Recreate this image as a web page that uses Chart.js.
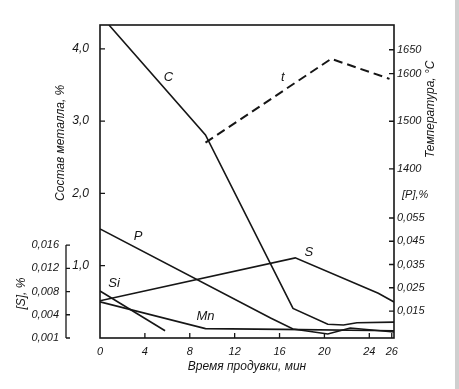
<!DOCTYPE html>
<html>
<head>
<meta charset="utf-8">
<script src="https://cdn.jsdelivr.net/npm/chart.js@4.4.1/dist/chart.umd.min.js"></script>
<style>
  html, body { margin: 0; padding: 0; background: #fff; }
  #wrap { width: 455px; height: 389px; border-right: 4px solid #cfcfcf; }
</style>
</head>
<body>
<div id="wrap"><canvas id="steelChart" width="455" height="389"></canvas></div>
<script>
// Кривые продувки: время (мин) и состав / температура
const carbonTime = [0.8, 9.4, 17.2, 20.3, 21.7, 22.9, 26.2];
const carbonPct  = [4.33, 2.81, 0.41, 0.19, 0.18, 0.21, 0.22];

const tempTime = [9.4, 20.6, 25.8];
const tempC    = [1455, 1631, 1589];

const phosTime = [0, 15.2, 17.2, 20.3, 22.3, 26.2];
const phosPct  = [0.0503, 0.0120, 0.0073, 0.0051, 0.0077, 0.0060];

const sulfTime = [0, 17.4, 24.8, 26.2];
const sulfPct  = [0.0064, 0.0138, 0.0077, 0.0062];

const siTime = [0, 5.8];
const siPct  = [0.65, 0.10];

const mnTime = [0, 9.4, 16.2, 26.2];
const mnPct  = [0.50, 0.13, 0.12, 0.10];

// Деления осей
const timeTicks  = [0, 4, 8, 12, 16, 20, 24, 26];
const metalTicks = [1, 2, 3, 4];
const tempTicks  = [1400, 1500, 1600, 1650];
const phosTicks  = [0.015, 0.025, 0.035, 0.045, 0.055];
const sulfTicks  = [0, 0.004, 0.008, 0.012, 0.016];
const sulfTickLabels = ['0,001', '0,004', '0,008', '0,012', '0,016'];

// Подписи кривых (в единицах осей x / y)
const curveLabels = [
    { text: 'C',  x: 6.1,  y: 3.61 },
    { text: 't',  x: 16.3, y: 3.61 },
    { text: 'P',  x: 3.4,  y: 1.41 },
    { text: 'S',  x: 18.6, y: 1.18 },
    { text: 'Si', x: 1.25, y: 0.76 },
    { text: 'Mn', x: 9.4,  y: 0.30 }
];

const INK = '#161616';
const FONT = "'Liberation Sans', 'DejaVu Sans', sans-serif";

function pts(xs, ys) {
    return xs.map((x, i) => ({ x: x, y: ys[i] }));
}

function comma(v, digits) {
    return v.toFixed(digits).replace('.', ',');
}

function lineSet(xs, ys, axis, dashed) {
    return {
        data: pts(xs, ys),
        yAxisID: axis,
        borderColor: INK,
        borderWidth: dashed ? 2 : 1.6,
        borderDash: dashed ? [9, 5] : [],
        pointRadius: 0,
        tension: 0,
        fill: false
    };
}

// Рамка, внутренние засечки, дополнительные оси и надписи
const extrasPlugin = {
    id: 'extras',
    afterDraw(chart) {
        const ctx = chart.ctx;
        const area = chart.chartArea;
        const sx = chart.scales.x;
        const sy = chart.scales.y;
        const sT = chart.scales.yT;
        const sP = chart.scales.yP;
        const sS = chart.scales.yS;

        ctx.save();
        ctx.strokeStyle = INK;
        ctx.fillStyle = INK;
        ctx.lineWidth = 1.6;
        ctx.strokeRect(area.left, area.top, area.right - area.left, area.bottom - area.top);

        ctx.lineWidth = 1.3;
        ctx.beginPath();
        timeTicks.slice(1).forEach(v => {
            const px = sx.getPixelForValue(v);
            ctx.moveTo(px, area.bottom);
            ctx.lineTo(px, area.bottom - 5);
        });
        metalTicks.forEach(v => {
            const py = sy.getPixelForValue(v);
            ctx.moveTo(area.left, py);
            ctx.lineTo(area.left + 5, py);
        });
        tempTicks.forEach(v => {
            const py = sT.getPixelForValue(v);
            ctx.moveTo(area.right, py);
            ctx.lineTo(area.right - 5, py);
        });
        phosTicks.forEach(v => {
            const py = sP.getPixelForValue(v);
            ctx.moveTo(area.right, py);
            ctx.lineTo(area.right - 5, py);
        });
        ctx.stroke();

        ctx.font = 'italic 11px ' + FONT;
        ctx.textAlign = 'left';
        ctx.textBaseline = 'middle';
        tempTicks.forEach(v => {
            ctx.fillText(String(v), area.right + 3, sT.getPixelForValue(v));
        });
        phosTicks.forEach(v => {
            ctx.fillText(comma(v, 3), area.right + 3, sP.getPixelForValue(v));
        });
        ctx.fillText('[P],%', area.right + 8, sP.getPixelForValue(0.055) - 23);

        // Ось [S] — скобка слева
        const bx = area.left - 34;
        const sTop = sS.getPixelForValue(sulfTicks[sulfTicks.length - 1]);
        const sBot = sS.getPixelForValue(sulfTicks[0]);
        ctx.beginPath();
        ctx.moveTo(bx, sTop);
        ctx.lineTo(bx, sBot);
        sulfTicks.forEach(v => {
            const py = sS.getPixelForValue(v);
            ctx.moveTo(bx, py);
            ctx.lineTo(bx + 4, py);
        });
        ctx.stroke();
        ctx.textAlign = 'right';
        sulfTicks.forEach((v, i) => {
            ctx.fillText(sulfTickLabels[i], bx - 7, sS.getPixelForValue(v));
        });

        // Повёрнутые заголовки осей
        ctx.font = 'italic 12px ' + FONT;
        ctx.textAlign = 'center';
        const vtitle = (text, x, y) => {
            ctx.save();
            ctx.translate(x, y);
            ctx.rotate(-Math.PI / 2);
            ctx.fillText(text, 0, 0);
            ctx.restore();
        };
        vtitle('Состав металла, %', area.left - 39, sy.getPixelForValue(2.7));
        vtitle('Температура, °C', area.right + 37, sT.getPixelForValue(1525));
        vtitle('[S], %', area.left - 78, (sTop + sBot) / 2 + 2);

        // Подписи кривых
        ctx.font = 'italic 13px ' + FONT;
        curveLabels.forEach(l => {
            ctx.fillText(l.text, sx.getPixelForValue(l.x), sy.getPixelForValue(l.y));
        });
        ctx.restore();
    }
};

const ctx = document.getElementById('steelChart').getContext('2d');

new Chart(ctx, {
    type: 'line',
    data: {
        datasets: [
            lineSet(carbonTime, carbonPct, 'y', false),
            lineSet(tempTime, tempC, 'yT', true),
            lineSet(phosTime, phosPct, 'yP', false),
            lineSet(sulfTime, sulfPct, 'yS', false),
            lineSet(siTime, siPct, 'y', false),
            lineSet(mnTime, mnPct, 'y', false)
        ]
    },
    options: {
        responsive: false,
        animation: false,
        layout: { padding: { left: 52, right: 61, top: 25, bottom: 11 } },
        plugins: {
            legend: { display: false },
            tooltip: { enabled: false }
        },
        scales: {
            x: {
                type: 'linear',
                min: 0,
                max: 26.2,
                grid: { display: false, drawTicks: false },
                border: { display: false },
                afterBuildTicks: s => { s.ticks = timeTicks.map(v => ({ value: v })); },
                afterFit: s => { s.height = 40; },
                ticks: {
                    autoSkip: false,
                    maxRotation: 0,
                    padding: 7,
                    color: INK,
                    font: { family: FONT, size: 11, style: 'italic' },
                    callback: v => String(v)
                },
                title: {
                    display: true,
                    text: 'Время продувки, мин',
                    color: INK,
                    font: { family: FONT, size: 12, style: 'italic' },
                    padding: { top: 2, bottom: 4 }
                }
            },
            y: {
                min: 0,
                max: 4.33,
                grid: { display: false, drawTicks: false },
                border: { display: false },
                afterBuildTicks: s => { s.ticks = metalTicks.map(v => ({ value: v })); },
                afterFit: s => { s.width = 48; },
                ticks: {
                    padding: 11,
                    color: INK,
                    font: { family: FONT, size: 12, style: 'italic' },
                    callback: v => comma(v, 1)
                }
            },
            yT: { display: false, min: 1045, max: 1702 },
            yP: { display: false, min: 0.0034, max: 0.138 },
            yS: { display: false, min: 0, max: 0.0539 }
        }
    },
    plugins: [extrasPlugin]
});
</script>
</body>
</html>
